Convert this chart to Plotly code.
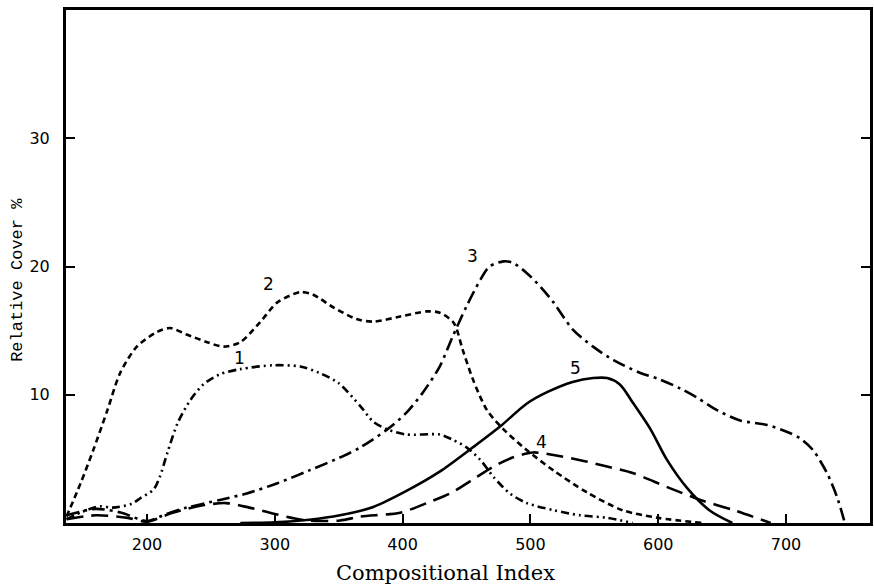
import plotly.graph_objects as go

# Curve data (Compositional Index vs Relative Cover %)
x1 = [137, 150, 163, 173, 188, 195, 205, 210, 216, 224, 234, 244, 257, 273, 299, 320, 335, 350, 367, 377, 388, 403, 429, 439, 450, 461, 471, 484, 497, 518, 539, 560, 580]
y1 = [0.3, 0.9, 1.3, 1.2, 1.5, 1.95, 2.6, 3.6, 5.5, 7.8, 9.6, 10.8, 11.6, 12.0, 12.3, 12.2, 11.7, 10.9, 9.1, 7.9, 7.3, 6.9, 6.9, 6.5, 5.9, 4.9, 3.6, 2.3, 1.56, 1.0, 0.6, 0.4, 0.0]

x2 = [137, 148, 158, 169, 179, 192, 208, 218, 231, 247, 260, 273, 288, 302, 320, 330, 346, 364, 377, 398, 419, 429, 440, 447, 455, 466, 479, 497, 518, 544, 572, 600, 635]
y2 = [0.5, 3.1, 5.7, 8.8, 11.7, 13.75, 14.9, 15.2, 14.7, 14.1, 13.75, 14.1, 15.6, 17.2, 18.0, 17.8, 16.8, 15.9, 15.7, 16.1, 16.5, 16.4, 15.6, 13.5, 11.2, 8.8, 7.3, 5.7, 4.1, 2.4, 1.0, 0.4, 0.0]

x3 = [137, 160, 180, 200, 215, 231, 257, 278, 302, 327, 353, 367, 388, 403, 416, 429, 439, 450, 461, 468, 479, 486, 497, 508, 518, 533, 549, 565, 586, 601, 617, 630, 646, 664, 685, 701, 711, 721, 732, 740, 746]
y3 = [0.6, 1.1, 0.8, 0.15, 0.7, 1.2, 1.8, 2.3, 3.1, 4.1, 5.2, 5.9, 7.3, 8.6, 10.2, 12.2, 14.5, 16.9, 19.0, 20.0, 20.4, 20.3, 19.5, 18.4, 17.2, 15.1, 13.75, 12.7, 11.7, 11.2, 10.5, 9.8, 8.8, 8.0, 7.65, 7.1, 6.6, 5.7, 3.9, 2.0, 0.0]

x4 = [137, 160, 185, 200, 220, 245, 262, 280, 300, 325, 351, 367, 398, 419, 437, 455, 471, 486, 502, 518, 539, 560, 580, 607, 633, 659, 688]
y4 = [0.3, 0.6, 0.4, 0.1, 0.8, 1.4, 1.55, 1.2, 0.7, 0.2, 0.2, 0.5, 0.8, 1.56, 2.3, 3.4, 4.4, 5.1, 5.5, 5.3, 4.9, 4.4, 3.9, 2.8, 1.8, 1.0, 0.0]

x5 = [273, 300, 327, 351, 377, 403, 429, 455, 476, 497, 513, 533, 549, 560, 570, 580, 594, 607, 622, 640, 658]
y5 = [0.0, 0.05, 0.25, 0.6, 1.25, 2.5, 4.0, 5.9, 7.5, 9.3, 10.2, 11.0, 11.3, 11.3, 10.8, 9.4, 7.3, 4.9, 2.8, 1.0, 0.0]

curve_labels = ["1", "2", "3", "4", "5"]
label_x = [272, 295, 455, 509, 535]
label_y = [12.9, 18.6, 20.8, 6.3, 12.1]

x_ticks = [200, 300, 400, 500, 600, 700]
y_ticks = [10, 20, 30]

series = [
    (x1, y1, "8px,4px,2px,4px,2px,4px"),
    (x2, y2, "6px,4px"),
    (x3, y3, "13px,5px,3px,5px"),
    (x4, y4, "17px,8px"),
    (x5, y5, "solid"),
]

fig = go.Figure()
for xs, ys, dash in series:
    fig.add_trace(go.Scatter(
        x=xs, y=ys, mode="lines",
        line=dict(color="black", width=2.6, dash=dash, shape="spline", smoothing=0.8),
        showlegend=False, hoverinfo="skip",
    ))

# invisible trace to activate the right-side tick axis
fig.add_trace(go.Scatter(x=[x_ticks[0]], y=[y_ticks[0]], yaxis="y2", mode="markers",
                         marker=dict(opacity=0), showlegend=False, hoverinfo="skip"))

for t, lx, ly in zip(curve_labels, label_x, label_y):
    fig.add_annotation(x=lx, y=ly, text=t, showarrow=False,
                       font=dict(family="DejaVu Sans", size=17, color="black"))

# axis titles as annotations for exact placement
fig.add_annotation(xref="paper", yref="paper", x=0.4726, y=-0.0975,
                   xanchor="center", yanchor="middle",
                   text="Compositional Index", showarrow=False,
                   font=dict(family="DejaVu Serif", size=21, color="black"))
fig.add_annotation(xref="paper", yref="paper", x=-0.0597, y=0.474,
                   xanchor="center", yanchor="middle",
                   text="Relative Cover %", showarrow=False, textangle=-90,
                   font=dict(family="Liberation Mono", size=17, color="black"))

fig.update_layout(
    width=874, height=586,
    margin=dict(l=66, r=4, t=10, b=63),
    paper_bgcolor="white", plot_bgcolor="white",
    xaxis=dict(
        range=[136.6, 765.7], tickvals=x_ticks, ticktext=[str(v) for v in x_ticks],
        ticks="inside", ticklen=9, tickwidth=2, tickcolor="black",
        showline=True, linewidth=3, linecolor="black", mirror=True,
        showgrid=False, zeroline=False, automargin=False,
        tickfont=dict(family="DejaVu Sans", size=16, color="black"),
        ticklabelstandoff=5,
    ),
    yaxis=dict(
        range=[0, 40], tickvals=y_ticks, ticktext=[str(v) for v in y_ticks],
        ticks="inside", ticklen=9, tickwidth=2, tickcolor="black",
        showline=True, linewidth=3, linecolor="black", mirror=True,
        showgrid=False, zeroline=False, automargin=False,
        tickfont=dict(family="DejaVu Sans", size=16, color="black"),
        ticklabelstandoff=10,
    ),
    yaxis2=dict(
        range=[0, 40], overlaying="y", side="right", tickvals=y_ticks,
        showticklabels=False, ticks="inside", ticklen=9, tickwidth=2, tickcolor="black",
        showline=False, showgrid=False, zeroline=False, automargin=False,
    ),
)

fig.write_html("out.html", config={"displayModeBar": False},
               post_script="document.body.style.margin='0';")
